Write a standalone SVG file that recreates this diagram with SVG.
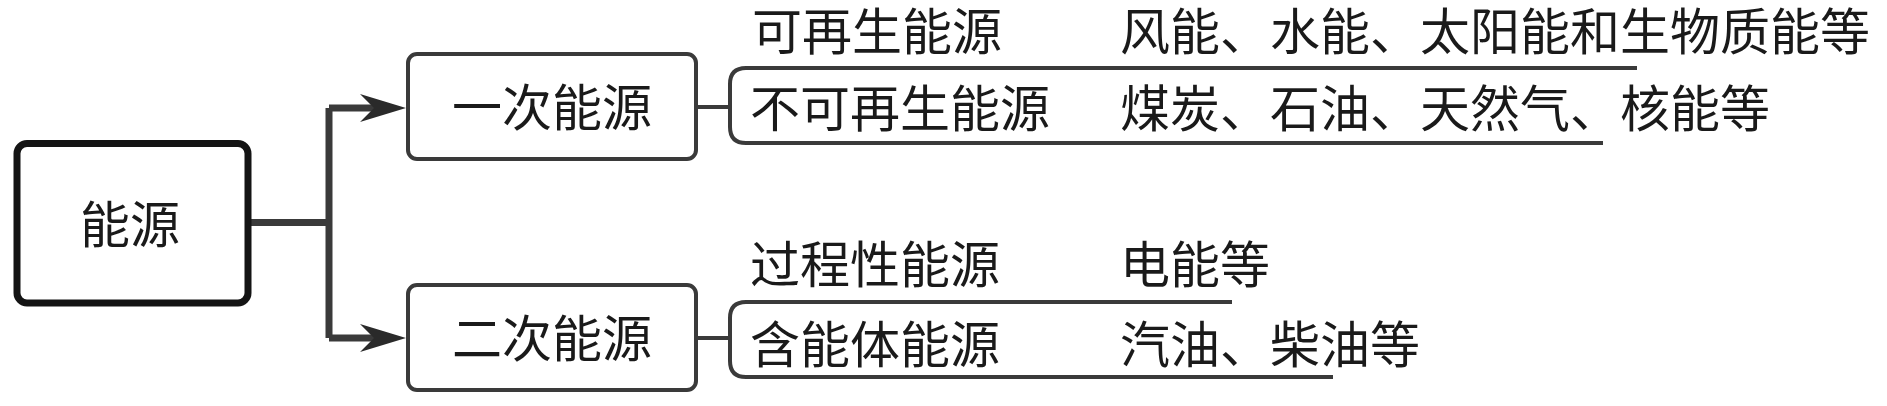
<svg xmlns="http://www.w3.org/2000/svg" width="1887" height="406" viewBox="0 0 1887 406">
  <defs>
    <style>
      text { font-family: "Liberation Sans", "Noto Sans CJK SC", sans-serif; font-size: 50px; fill: #1a1a1a; dominant-baseline: central; }
      .mid { text-anchor: middle; }
      .main { fill: #fff; stroke: #141414; stroke-width: 7; }
      .box { fill: #fff; stroke: #3a3a3a; stroke-width: 4; }
      .conn { fill: none; stroke: #3a3a3a; stroke-width: 7; }
      .thin { fill: none; stroke: #3a3a3a; stroke-width: 4; }
      .head { fill: #2a2a2a; }
    </style>
  </defs>
  <rect width="1887" height="406" fill="#ffffff"/>

  <g id="connectors">
    <path class="conn" d="M251 222.5 H329 M329 108 V338 M329 108 H390 M329 338 H390"/>
    <polygon class="head" points="406,108 360,94 374,108 360,122"/>
    <polygon class="head" points="406,338 360,324 374,338 360,352"/>
    <path class="thin" d="M696 107 H730"/>
    <path class="thin" d="M1637 68 H746 Q730 68 730 84 V127 Q730 143 746 143 H1603"/>
    <path class="thin" d="M696 338 H730"/>
    <path class="thin" d="M1232 302 H746 Q730 302 730 318 V361 Q730 377 746 377 H1333"/>
  </g>

  <g id="node-energy">
    <rect class="main" x="17" y="143.5" width="231" height="159.5" rx="10"/>
    <text class="mid" x="130" y="226">能源</text>
  </g>

  <g id="node-primary">
    <rect class="box" x="408" y="54" width="288" height="105" rx="9"/>
    <text class="mid" x="552" y="109">一次能源</text>
  </g>

  <g id="node-secondary">
    <rect class="box" x="408" y="285" width="288" height="105" rx="9"/>
    <text class="mid" x="552" y="340">二次能源</text>
  </g>

  <g id="node-renewable">
    <text x="752" y="33">可再生能源</text>
    <text x="1120" y="33">风能、水能、太阳能和生物质能等</text>
  </g>

  <g id="node-nonrenewable">
    <text x="750" y="110">不可再生能源</text>
    <text x="1120" y="110">煤炭、石油、天然气、核能等</text>
  </g>

  <g id="node-process">
    <text x="750" y="266">过程性能源</text>
    <text x="1120" y="266">电能等</text>
  </g>

  <g id="node-carrier">
    <text x="750" y="346">含能体能源</text>
    <text x="1120" y="346">汽油、柴油等</text>
  </g>
</svg>
